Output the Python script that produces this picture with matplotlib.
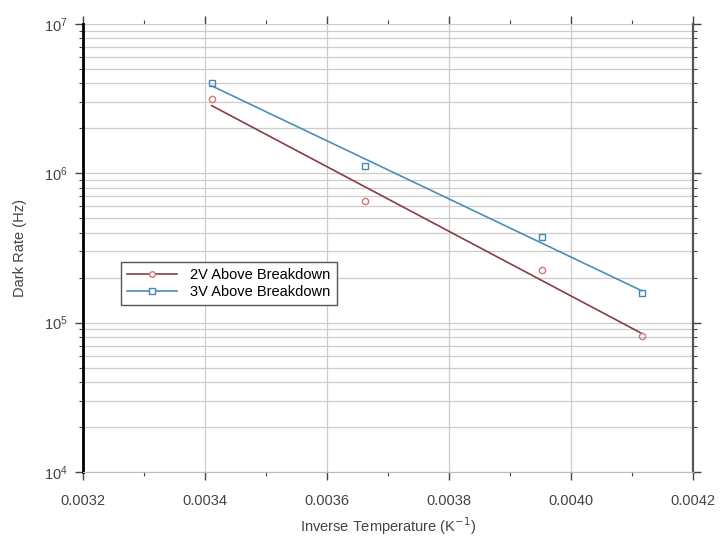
import numpy as np
import matplotlib.pyplot as plt
from matplotlib.ticker import LogLocator, MultipleLocator, NullFormatter

plt.rcParams["font.family"] = ["Liberation Sans", "DejaVu Sans"]

# inverse temperature (1/K) for 20, 0, -20, -30 C
inv_temp = [0.003411, 0.003662, 0.003952, 0.004116]
rate_2v = [3.15e6, 6.5e5, 2.25e5, 8.1e4]
rate_3v = [4.03e6, 1.12e6, 3.74e5, 1.58e5]
labels = ["2V Above Breakdown", "3V Above Breakdown"]

fig = plt.figure(figsize=(7.21, 5.40), dpi=100)
ax = fig.add_axes([0.115, 0.126, 0.846, 0.830])

x = np.array(inv_temp)
for rates, line_c, mark_c, mk, lab in [
    (rate_2v, "#8a3c44", "#d07878", "o", labels[0]),
    (rate_3v, "#4a8fb5", "#4a86b0", "s", labels[1]),
]:
    # exponential fit drawn as a line through the points
    p = np.polyfit(x, np.log10(rates), 1)
    fit = 10 ** np.polyval(p, x)
    ax.plot(x, fit, color=line_c, lw=1.2, zorder=3)
    ax.plot(x, rates, ls="none", marker=mk, ms=4.5, mfc="none",
            mec=mark_c, mew=1.0, zorder=4)
    ax.plot([], [], color=line_c, lw=1.2, marker=mk, ms=4, mfc="white",
            mec=mark_c, label=lab)

ax.set_yscale("log")
ax.set_xlim(0.0032, 0.0042)
ax.set_ylim(1e4, 1e7)
ax.xaxis.set_major_locator(MultipleLocator(0.0002))
ax.xaxis.set_minor_locator(MultipleLocator(0.0001))
ax.xaxis.set_major_formatter(plt.FuncFormatter(lambda v, _: f"{v:.4f}"))
ax.yaxis.set_major_locator(LogLocator(base=10, numticks=10))
ax.yaxis.set_minor_locator(LogLocator(base=10, subs=np.arange(2, 10), numticks=20))
ax.yaxis.set_minor_formatter(NullFormatter())

ax.grid(True, which="major", axis="x", color="#cccccc", lw=0.9)
ax.grid(True, which="both", axis="y", color="#cccccc", lw=0.9)

ax.spines["top"].set_visible(False)
ax.spines["left"].set_linewidth(2.0)
ax.spines["left"].set_color("black")
ax.spines["right"].set_linewidth(1.6)
ax.spines["right"].set_color("#555555")
ax.spines["bottom"].set_color("#bbbbbb")

ax.tick_params(axis="both", which="major", labelsize=10.5, colors="#444444",
               length=6, width=1.0)
ax.tick_params(axis="both", which="minor", length=3, width=0.8, colors="#444444")
ax.tick_params(axis="x", top=True, which="both", direction="out", pad=10)
ax.tick_params(axis="y", right=True, which="both", direction="out", pad=5)

ax.set_xlabel("Inverse Temperature (K$^{-1}$)", fontsize=10.5, color="#444444",
              labelpad=5)
ax.set_ylabel("Dark Rate (Hz)", fontsize=10.5, color="#444444", labelpad=12)

ax.legend(loc="upper left", bbox_to_anchor=(0.05, 0.485), fontsize=10.5,
          frameon=True, fancybox=False, edgecolor="#555555", framealpha=1,
          handlelength=3.4, handletextpad=0.9, borderpad=0.45,
          labelspacing=0.15)

fig.savefig("out.png", dpi=100)
